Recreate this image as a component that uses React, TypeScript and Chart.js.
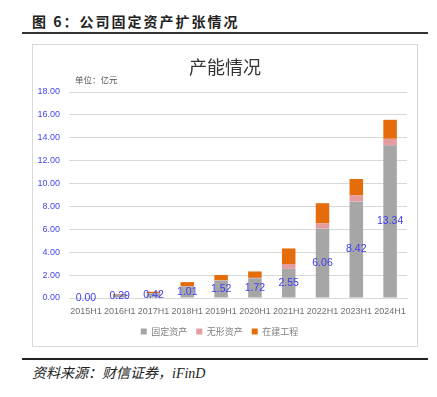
import React, { useEffect, useRef } from "react";
import { Chart, registerables } from "chart.js";

Chart.register(...registerables);

const categories = ["2015H1", "2016H1", "2017H1", "2018H1", "2019H1", "2020H1", "2021H1", "2022H1", "2023H1", "2024H1"];
const fixedAssets = [0.0, 0.29, 0.42, 1.01, 1.52, 1.72, 2.55, 6.06, 8.42, 13.34];
const intangibleAssets = [0, 0, 0.01, 0.02, 0.03, 0.04, 0.42, 0.46, 0.54, 0.57];
const construction = [0, 0.06, 0.12, 0.36, 0.46, 0.56, 1.36, 1.76, 1.44, 1.66];
const seriesNames = ["固定资产", "无形资产", "在建工程"];
const yMax = 18;
const yStep = 2;

const labelPlugin = {
  id: "barLabels",
  afterDatasetsDraw(chart: any) {
    const ctx = chart.ctx;
    const meta = chart.getDatasetMeta(0);
    ctx.save();
    ctx.font = "10.5px 'Liberation Sans', Arial, sans-serif";
    ctx.fillStyle = "#3d3df5";
    ctx.textAlign = "center";
    ctx.textBaseline = "middle";
    meta.data.forEach((bar: any, i: number) => {
      const v = fixedAssets[i];
      const y = (bar.y + bar.base) / 2;
      ctx.fillText(v.toFixed(2), bar.x, y);
    });
    ctx.restore();
  },
};

export default function App() {
  const ref = useRef<HTMLCanvasElement>(null);
  useEffect(() => {
    if (!ref.current) return;
    const chart = new Chart(ref.current, {
      type: "bar",
      data: {
        labels: categories,
        datasets: [
          { label: seriesNames[0], data: fixedAssets, backgroundColor: "#a6a6a6" },
          { label: seriesNames[1], data: intangibleAssets, backgroundColor: "#e49c9c" },
          { label: seriesNames[2], data: construction, backgroundColor: "#e46c0a" },
        ],
      },
      options: {
        responsive: false,
        animation: false,
        layout: { padding: { left: 0, right: 11, top: 48, bottom: 1 } },
        datasets: { bar: { categoryPercentage: 0.8, barPercentage: 0.5 } },
        scales: {
          x: {
            stacked: true,
            afterFit: (s: any) => { s.height = 20; },
            grid: { display: false },
            border: { display: true, color: "#d9d9d9" },
            ticks: { color: "#707070", font: { size: 9, family: "'Liberation Sans', Arial, sans-serif" }, padding: 0, maxRotation: 0, autoSkip: false },
          },
          y: {
            stacked: true,
            min: 0,
            max: yMax,
            afterFit: (s: any) => { s.width = 37; },
            grid: { color: "#d9d9d9", drawTicks: false },
            border: { display: false },
            ticks: {
              stepSize: yStep,
              padding: 9,
              color: "#4646f0",
              font: { size: 9, family: "'Liberation Sans', Arial, sans-serif" },
              callback: (v: any) => Number(v).toFixed(2),
            },
          },
        },
        plugins: {
          legend: {
            position: "bottom",
            labels: {
              boxWidth: 6,
              boxHeight: 6,
              padding: 9,
              color: "#7f7f7f",
              font: { size: 9, family: "'Noto Sans CJK SC', sans-serif" },
            },
          },
          tooltip: { enabled: false },
        },
      },
      plugins: [labelPlugin],
    });
    return () => chart.destroy();
  }, []);

  return (
    <div style={{ position: "absolute", left: 0, top: 0, width: 437, height: 397, background: "#fff", fontFamily: "'Noto Sans CJK SC', sans-serif" }}>
      <div style={{ position: "absolute", left: 32, top: 12, fontSize: 14, fontWeight: "bold", color: "#222", letterSpacing: 2, whiteSpace: "nowrap", lineHeight: "18px" }}>
        图 6：公司固定资产扩张情况
      </div>
      <div style={{ position: "absolute", left: 22, top: 32, width: 406, height: 2, background: "#333" }} />
      <div style={{ position: "absolute", left: 32, top: 44, width: 384, height: 301, border: "1px solid #d9d9d9" }} />
      <canvas ref={ref} width={386} height={303} style={{ position: "absolute", left: 32, top: 44 }} />
      <div style={{ position: "absolute", left: 0, width: 450, top: 54, textAlign: "center", fontSize: 18, color: "#333", lineHeight: "24px" }}>
        产能情况
      </div>
      <div style={{ position: "absolute", left: 75, top: 73, fontSize: 8.5, color: "#555", lineHeight: "12px", whiteSpace: "nowrap" }}>
        单位：亿元
      </div>
      <div style={{ position: "absolute", left: 22, top: 358, width: 406, height: 2, background: "#222" }} />
      <div style={{ position: "absolute", left: 32, top: 365, fontSize: 14, fontStyle: "italic", color: "#222", lineHeight: "18px", whiteSpace: "nowrap", fontFamily: "'Liberation Serif', 'Noto Sans CJK SC', serif" }}>
        资料来源：财信证券，iFinD
      </div>
    </div>
  );
}
